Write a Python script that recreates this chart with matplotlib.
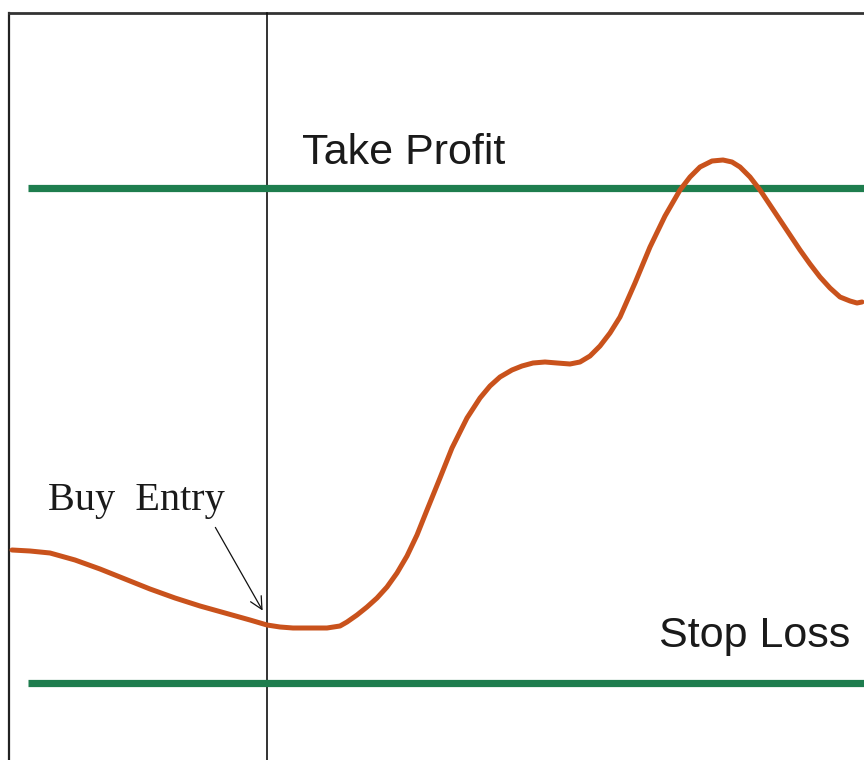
import matplotlib.pyplot as plt

# price path in pixel units (x right, y down)
price_x = [12, 30, 50, 75, 100, 125, 150, 175, 200, 225, 250, 267, 280, 293, 310, 327,
           340, 347, 357, 367, 377, 387, 397, 407, 417, 427, 440, 452, 467, 480, 490,
           500, 512, 522, 533, 545, 557, 570, 580, 590, 600, 610, 620, 635, 650, 665,
           680, 690, 700, 712, 723, 732, 740, 750, 760, 770, 780, 790, 800, 810, 820,
           830, 840, 850, 857, 862]
price_y = [550, 551, 553, 560, 569, 579, 589, 598, 606, 613, 620, 625, 627, 628, 628, 628,
           626, 622, 615, 607, 598, 587, 573, 556, 535, 510, 478, 448, 418, 398, 386,
           377, 370, 366, 363, 362, 363, 364, 362, 356, 346, 333, 317, 283, 247, 216,
           190, 177, 167, 161, 160, 162, 167, 177, 190, 205, 220, 235, 250, 264, 277,
           288, 297, 301, 303, 302]

take_profit = 188
stop_loss = 683
entry_x = 267

fig = plt.figure(figsize=(8.64, 7.6), dpi=100)
ax = fig.add_axes([0, 0, 1, 1])
ax.set_xlim(0, 864)
ax.set_ylim(760, 0)
ax.axis('off')

# frame (left and top edges only visible)
ax.plot([9, 9], [13, 760], color='#222222', lw=1.6)
ax.plot([9, 864], [13, 13], color='#333333', lw=2.0)
ax.plot([entry_x, entry_x], [13, 760], color='#111111', lw=1.2)

# target levels
ax.plot([28, 864], [take_profit, take_profit], color='#1e7d4e', lw=5.2, solid_capstyle='butt')
ax.plot([28, 864], [stop_loss, stop_loss], color='#1e7d4e', lw=5.2, solid_capstyle='butt')

ax.plot(price_x, price_y, color='#c9521c', lw=3.6, solid_joinstyle='round', solid_capstyle='round')

ax.text(302, 164, 'Take Profit', fontsize=31, family='Liberation Sans', color='#1a1a1a')
ax.text(659, 647, 'Stop Loss', fontsize=31, family='Liberation Sans', color='#1a1a1a')
ax.text(48, 510, 'Buy  Entry', fontsize=29, family='Liberation Serif', color='#1a1a1a')

ax.annotate('', xy=(264, 613), xytext=(214, 525),
            arrowprops=dict(arrowstyle='->', color='#111111', lw=0.9, mutation_scale=22))

fig.savefig('out.png', dpi=100)
